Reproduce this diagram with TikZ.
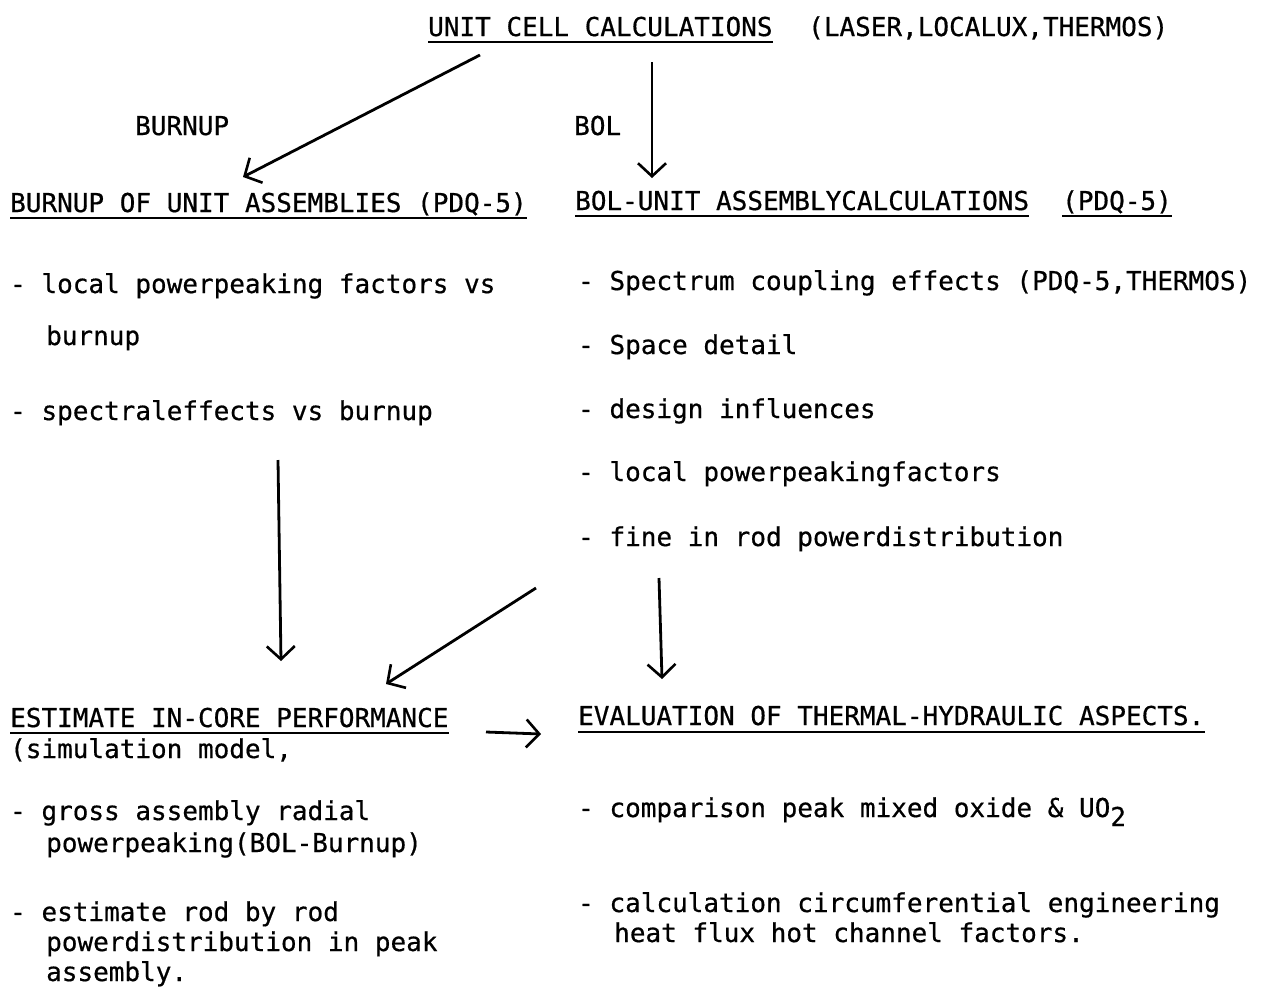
\documentclass[tikz,border=0pt]{standalone}
\usepackage{fontspec}
\newfontfamily\tw[FakeBold=0.6]{DejaVu Sans Mono}
\usetikzlibrary{arrows.meta}
\begin{document}
\begin{tikzpicture}[x=1pt,y=-1pt,
  txt/.style={anchor=base west,inner sep=0pt,font=\fontsize{26}{30}\selectfont\tw},
  uline/.style={line width=2.4pt},
  flow/.style={line width=2.8pt,-{Straight Barb[length=13pt,width=28pt,line width=2.6pt]}}]
\useasboundingbox (0,0) rectangle (1272,989);
% top
\node[txt] (t1) at (428,36) {UNIT CELL CALCULATIONS};
\node[txt] (t2) at (808,36) {(LASER,LOCALUX,THERMOS)};
\draw[uline] ([yshift=-6pt]t1.base west) -- ([yshift=-6pt]t1.base east);
\node[txt] (lb) at (135,135) {BURNUP};
\node[txt] (lr) at (574,135) {BOL};
% level 2 headings
\node[txt] (h1) at (10,212) {BURNUP OF UNIT ASSEMBLIES (PDQ-5)};
\draw[uline] ([yshift=-6pt]h1.base west) -- ([yshift=-6pt]h1.base east);
\node[txt] (h2a) at (575,210) {BOL-UNIT ASSEMBLYCALCULATIONS};
\node[txt] (h2b) at (1062,210) {(PDQ-5)};
\draw[uline] ([yshift=-6pt]h2a.base west) -- ([yshift=-6pt]h2a.base east);
\draw[uline] ([yshift=-6pt]h2b.base west) -- ([yshift=-6pt]h2b.base east);
% left items
\node[txt] (l1) at (10,293) {- local powerpeaking factors vs};
\node[txt] (l1b) at (46,345) {burnup};
\node[txt] (l2) at (10,420) {- spectraleffects vs burnup};
% right items
\node[txt] (r1) at (578,290) {- Spectrum coupling effects (PDQ-5,THERMOS)};
\node[txt] (r2) at (578,354) {- Space detail};
\node[txt] (r3) at (578,418) {- design influences};
\node[txt] (r4) at (578,481) {- local powerpeakingfactors};
\node[txt] (r5) at (578,546) {- fine in rod powerdistribution};
% bottom headings
\node[txt] (e1) at (10,727) {ESTIMATE IN-CORE PERFORMANCE};
\draw[uline] ([yshift=-6pt]e1.base west) -- ([yshift=-6pt]e1.base east);
\node[txt] (e1b) at (10,758) {(simulation model,};
\node[txt] (v1) at (578,725) {EVALUATION OF THERMAL-HYDRAULIC ASPECTS.};
\draw[uline] ([yshift=-7pt]v1.base west) -- ([yshift=-7pt]v1.base east);
% bottom left items
\node[txt] (b1) at (10,820) {- gross assembly radial};
\node[txt] (b1b) at (46,852) {powerpeaking(BOL-Burnup)};
\node[txt] (b2) at (10,921) {- estimate rod by rod};
\node[txt] (b2b) at (46,951) {powerdistribution in peak};
\node[txt] (b2c) at (46,981) {assembly.};
% bottom right items
\node[txt] (c1) at (578,817) {- comparison peak mixed oxide \& UO\raisebox{-9pt}{2}};
\node[txt] (c2) at (578,912) {- calculation circumferential engineering};
\node[txt] (c2b) at (614,942) {heat flux hot channel factors.};
% arrow end points
\coordinate (a1s) at (480,55);
\coordinate (a1e) at (243,177);
\coordinate (a2s) at (652,62);
\coordinate (a2e) at (652,178);
\coordinate (a3s) at (278,460);
\coordinate (a3e) at (281,661);
\coordinate (a4s) at (536,588);
\coordinate (a4e) at (386,684);
\coordinate (a5s) at (659,578);
\coordinate (a5e) at (662,679);
\coordinate (a6s) at (486,732);
\coordinate (a6e) at (541,734);
\draw[flow] (a1s) -- (a1e);
\draw[flow] (a2s) -- (a2e);
\draw[flow] (a3s) -- (a3e);
\draw[flow] (a4s) -- (a4e);
\draw[flow] (a5s) -- (a5e);
\draw[flow] (a6s) -- (a6e);
\end{tikzpicture}
\end{document}
